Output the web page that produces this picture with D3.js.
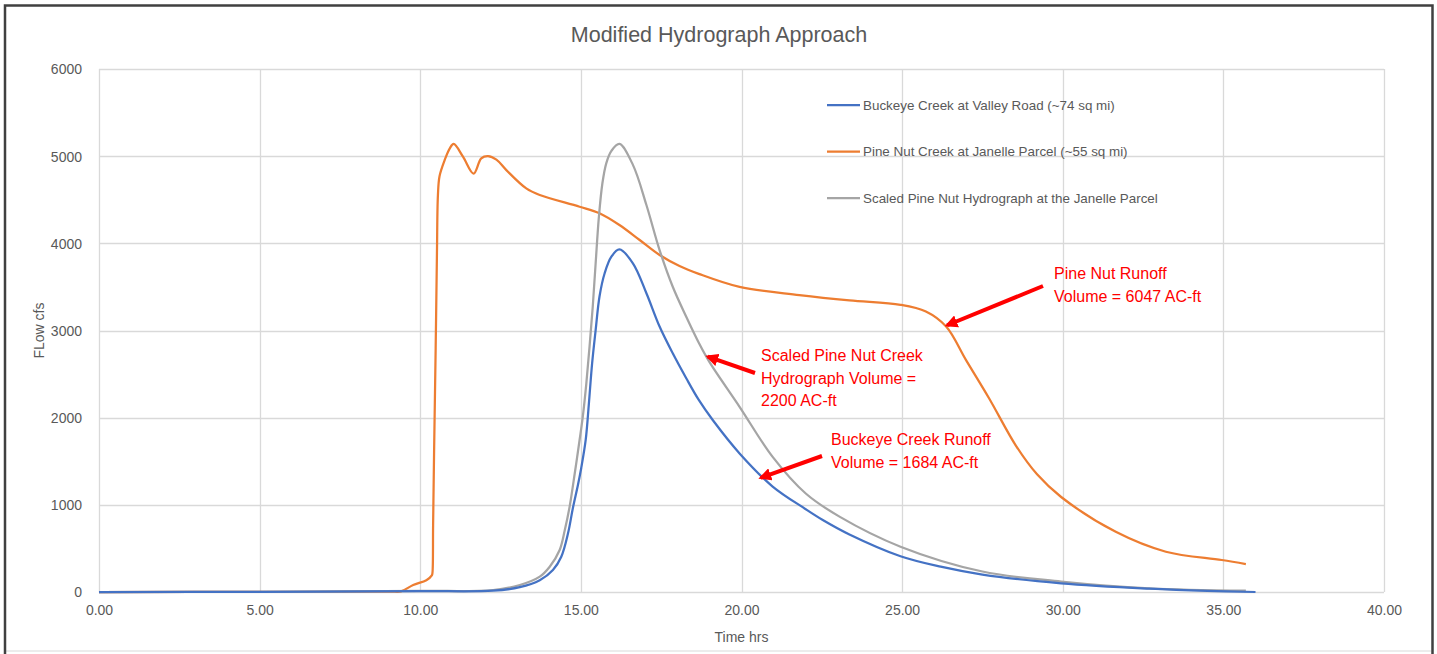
<!DOCTYPE html>
<html>
<head>
<meta charset="utf-8">
<script src="https://cdn.jsdelivr.net/npm/d3@7"></script>
<style>
  html, body { margin: 0; padding: 0; background: #fff; }
  svg { display: block; font-family: "Liberation Sans", Arial, sans-serif; }
</style>
</head>
<body>
<svg width="1437" height="654"></svg>
<script>
'use strict';
(() => {

// series: Buckeye Creek at Valley Road
var buckeyeTime = [0, 5, 10, 12.27, 13.1, 13.72, 14.13, 14.39, 14.6, 14.75, 14.91, 15.01, 15.15, 15.25, 15.35, 15.46, 15.58, 15.74, 15.95, 16.2, 16.62, 17.04, 17.45, 17.86, 18.28, 18.67, 19.11, 19.94, 20.97, 22.0, 22.53, 23.36, 24.95, 26.2, 27.5, 29.95, 32.69, 34.5, 36];
var buckeyeFlow = [0, 2, 10, 15, 55, 135, 252, 405, 673, 960, 1230, 1420, 1744, 2165, 2623, 3005, 3390, 3657, 3847, 3930, 3771, 3427, 3045, 2738, 2452, 2203, 1970, 1590, 1210, 950, 826, 660, 410, 290, 200, 100, 38, 12, 0];

// series: Pine Nut Creek at Janelle Parcel
var pineTime = [0, 5, 8.5, 9.1, 9.4, 9.78, 10.19, 10.36, 10.38, 10.4, 10.43, 10.48, 10.52, 10.55, 10.6, 10.76, 10.92, 11.04, 11.33, 11.66, 11.9, 12.11, 12.37, 12.68, 13.3, 13.72, 14.96, 15.58, 16.2, 16.83, 17.45, 18.07, 18.67, 19.94, 21.8, 23.36, 24.95, 25.74, 26.37, 26.99, 27.71, 28.54, 29.2, 29.95, 31.65, 33.21, 34.95, 35.7];
var pineFlow = [0, 2, 4, 5, 7, 80, 135, 190, 220, 760, 1590, 2800, 3890, 4550, 4770, 4955, 5090, 5140, 4995, 4800, 4975, 5000, 4960, 4840, 4630, 4554, 4420, 4345, 4210, 4038, 3866, 3740, 3650, 3500, 3407, 3345, 3295, 3218, 3045, 2660, 2220, 1680, 1350, 1090, 690, 462, 367, 321];

// series: Scaled Pine Nut Hydrograph at the Janelle Parcel
var scaledTime = [0, 5, 10, 12.27, 13.1, 13.72, 14.03, 14.34, 14.5, 14.65, 14.81, 14.96, 15.06, 15.17, 15.27, 15.37, 15.46, 15.56, 15.67, 15.79, 15.95, 16.2, 16.62, 17.04, 17.45, 17.86, 18.28, 18.67, 19.0, 19.94, 20.97, 22.0, 23.05, 24.95, 27.5, 29.95, 32.69, 35.7];
var scaledFlow = [0, 2, 12, 23, 80, 176, 290, 482, 711, 979, 1362, 1744, 2012, 2394, 2815, 3273, 3771, 4300, 4689, 4918, 5060, 5140, 4900, 4440, 3923, 3502, 3158, 2860, 2640, 2125, 1550, 1130, 865, 520, 235, 120, 42, 15];

var seriesNames = ['Buckeye Creek at Valley Road (~74 sq mi)', 'Pine Nut Creek at Janelle Parcel (~55 sq mi)', 'Scaled Pine Nut Hydrograph at the Janelle Parcel'];
var seriesColors = ['#4472C4', '#ED7D31', '#A5A5A5'];

var xTicks = [0, 5, 10, 15, 20, 25, 30, 35, 40];
var yTicks = [0, 1000, 2000, 3000, 4000, 5000, 6000];

// annotations: text lines, text x, first baseline, arrow tail (px), arrow tip (data)
var notes = [
  {lines: ['Pine Nut Runoff', 'Volume = 6047 AC-ft'], x: 1054, y: 279, tail: [1043, 286], tip: [26.4, 3060]},
  {lines: ['Scaled Pine Nut Creek', 'Hydrograph Volume =', '2200 AC-ft'], x: 761, y: 361, tail: [755, 373], tip: [18.95, 2700]},
  {lines: ['Buckeye Creek Runoff', 'Volume = 1684 AC-ft'], x: 831, y: 445, tail: [822, 456], tip: [20.6, 1310]}
];

var svg = d3.select('svg');
var m = {left: 99, right: 1384, top: 69, bottom: 592};

var x = d3.scaleLinear().domain([0, 40]).range([m.left, m.right]);
var y = d3.scaleLinear().domain([0, 6000]).range([m.bottom, m.top]);

// outer frame
svg.append('line').attr('x1', 6).attr('x2', 1431).attr('y1', 651).attr('y2', 651)
  .attr('stroke', '#d9d9d9').attr('stroke-width', 1);
svg.append('path').attr('d', 'M5,654 V5.5 H1432.5 V654')
  .attr('fill', 'none').attr('stroke', '#404040').attr('stroke-width', 2.5);

// gridlines
var grid = svg.append('g');
grid.selectAll('.h').data(yTicks).enter().append('line')
  .attr('x1', m.left).attr('x2', m.right)
  .attr('y1', d => Math.round(y(d)) + 0.5).attr('y2', d => Math.round(y(d)) + 0.5)
  .attr('stroke', '#d9d9d9').attr('stroke-width', 1.3);
grid.selectAll('.v').data(xTicks).enter().append('line')
  .attr('y1', m.top).attr('y2', m.bottom)
  .attr('x1', d => Math.round(x(d)) + 0.5).attr('x2', d => Math.round(x(d)) + 0.5)
  .attr('stroke', '#d9d9d9').attr('stroke-width', 1.3);

// axes (labels only)
var xAxis = svg.append('g').attr('transform', `translate(0, ${m.bottom + 10})`)
  .call(d3.axisBottom(x).tickValues(xTicks).tickFormat(d3.format('.2f')).tickSize(0));
var yAxis = svg.append('g').attr('transform', `translate(${m.left - 14}, 0)`)
  .call(d3.axisLeft(y).tickValues(yTicks).tickFormat(d3.format('d')).tickSize(0));
[xAxis, yAxis].forEach(a => {
  a.select('.domain').remove();
  a.selectAll('text').attr('fill', '#595959').style('font-size', '14px')
    .style('font-family', '"Liberation Sans", Arial, sans-serif');
});
yAxis.selectAll('text').attr('dy', '0.35em');

svg.append('text').text('Time hrs')
  .attr('x', (m.left + m.right) / 2).attr('y', 642)
  .attr('text-anchor', 'middle').attr('fill', '#595959').style('font-size', '14px');
svg.append('text').text('FLow cfs')
  .attr('transform', `translate(44, ${(m.top + m.bottom) / 2}) rotate(-90)`)
  .attr('text-anchor', 'middle').attr('fill', '#595959').style('font-size', '14px');

svg.append('text').text('Modified Hydrograph Approach')
  .attr('x', 719).attr('y', 42)
  .attr('text-anchor', 'middle').attr('fill', '#595959').style('font-size', '21.5px');

// lines
var series = [
  {t: buckeyeTime, v: buckeyeFlow},
  {t: pineTime, v: pineFlow},
  {t: scaledTime, v: scaledFlow}
];
var line = d3.line().x(d => x(d[0])).y(d => y(d[1])).curve(d3.curveCatmullRom.alpha(0.5));
var drawOrder = [1, 2, 0];
drawOrder.forEach(i => {
  var pts = series[i].t.map((t, k) => [t, series[i].v[k]]);
  svg.append('path').datum(pts)
    .attr('d', line)
    .attr('fill', 'none')
    .attr('stroke', seriesColors[i])
    .attr('stroke-width', 2.25)
    .attr('stroke-linejoin', 'round');
});

// legend
var lg = svg.append('g');
seriesNames.forEach((name, i) => {
  var ly = 105 + i * 46.5;
  lg.append('line').attr('x1', 827).attr('x2', 860).attr('y1', ly).attr('y2', ly)
    .attr('stroke', seriesColors[i]).attr('stroke-width', 2.25);
  lg.append('text').text(name).attr('x', 863).attr('y', ly + 4.5)
    .attr('fill', '#595959').style('font-size', '13.4px');
});

// annotations
var defs = svg.append('defs');
defs.append('marker').attr('id', 'arrow')
  .attr('viewBox', '0 0 10 10').attr('refX', 8).attr('refY', 5)
  .attr('markerWidth', 3.2).attr('markerHeight', 3.2).attr('orient', 'auto')
  .append('path').attr('d', 'M0,0 L10,5 L0,10 z').attr('fill', '#ff0000');

notes.forEach(n => {
  var t = svg.append('text').attr('fill', '#ff0000').style('font-size', '16px');
  n.lines.forEach((s, k) => {
    t.append('tspan').text(s).attr('x', n.x).attr('y', n.y + k * 22.5);
  });
  svg.append('line')
    .attr('x1', n.tail[0]).attr('y1', n.tail[1])
    .attr('x2', x(n.tip[0])).attr('y2', y(n.tip[1]))
    .attr('stroke', '#ff0000').attr('stroke-width', 4)
    .attr('marker-end', 'url(#arrow)');
});

})();
</script>
</body>
</html>
